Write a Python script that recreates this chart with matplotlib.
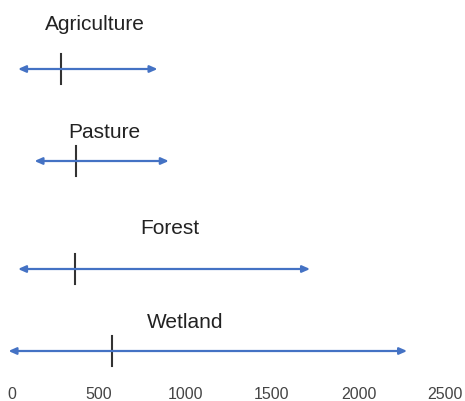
import matplotlib.pyplot as plt

# land use ranges (min, median, max)
categories = ["Agriculture", "Pasture", "Forest", "Wetland"]
range_min = [35, 130, 35, -20]
medians = [285, 370, 365, 575]
range_max = [840, 905, 1720, 2280]
xticks = [0, 500, 1000, 1500, 2000, 2500]

# layout (pixel rows from top, label x in data units)
line_y = [70, 162, 270, 352]
label_y = [25, 133, 229, 323]
label_x = [480, 530, 910, 1000]

BLUE = "#4472C4"
DARK = "#333333"

fig = plt.figure(figsize=(4.65, 4.02), dpi=100)
ax = fig.add_axes([0, 16 / 402, 1, 1 - 16 / 402])
ax.set_xlim(-69, 2614)
ax.set_ylim(386, 0)

for i, name in enumerate(categories):
    y = line_y[i]
    ax.annotate("", xy=(range_max[i], y), xytext=(range_min[i], y),
                arrowprops=dict(arrowstyle="<|-|>,head_length=0.45,head_width=0.2",
                                color=BLUE, lw=1.6, shrinkA=0, shrinkB=0))
    ax.plot([medians[i], medians[i]], [y - 15, y + 15], color=DARK, lw=1.5)
    ax.text(label_x[i], label_y[i], name, ha="center", va="center",
            fontsize=15, family="Liberation Sans", color="#222222")

ax.set_xticks(xticks)
ax.set_xticklabels([str(t) for t in xticks], family="Liberation Sans",
                   fontsize=11.5, color="#444444")
ax.tick_params(axis="x", length=0, pad=1)
ax.set_yticks([])
for s in ax.spines.values():
    s.set_visible(False)

fig.savefig("out.png", dpi=100)
